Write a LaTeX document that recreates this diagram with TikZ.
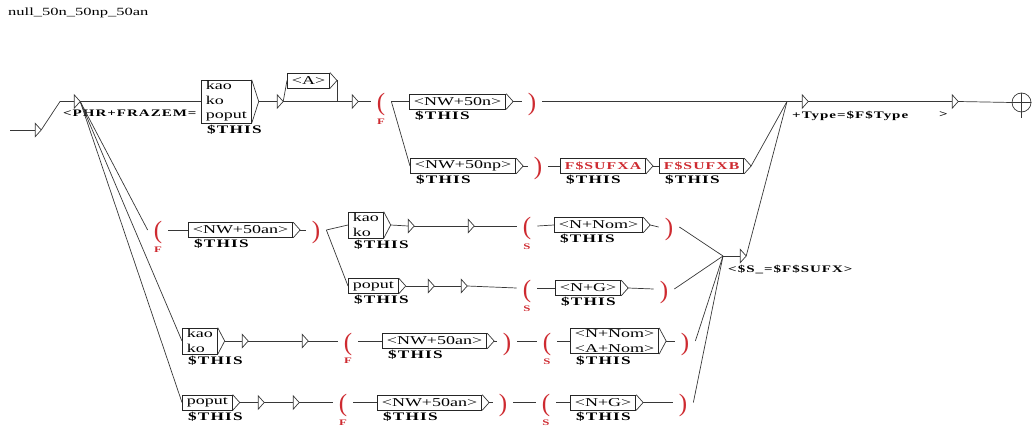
\documentclass[tikz,border=0pt]{standalone}
\usepackage{fontspec}
\setmainfont{Liberation Serif}
\newfontfamily\boxfont{Liberation Serif}[FakeStretch=1.5]
\newfontfamily\outfont{Liberation Serif}[FakeStretch=1.5,LetterSpace=10]
\usetikzlibrary{calc,positioning}
\definecolor{varred}{RGB}{206,42,48}
\definecolor{wiregray}{RGB}{55,55,55}

\tikzset{
  wire/.style={draw=wiregray, line width=0.7pt},
  lbox/.style={draw=black!85, line width=0.7pt, rectangle, anchor=west, inner xsep=4.5pt,
               inner ysep=1.5pt, minimum height=15pt, align=left,
               font=\boxfont\fontsize{12}{14.5}\selectfont},
  epsb/.style={anchor=west, inner sep=0pt, minimum height=13pt, minimum width=0pt},
  outlbl/.style={anchor=north west, inner sep=0pt, font=\outfont\bfseries\fontsize{10}{12}\selectfont},
  thislbl/.style={outlbl, font=\outfont\bfseries\fontsize{11.5}{12}\selectfont},
  vpar/.style={text=varred, inner xsep=6pt, inner ysep=0pt, text height=18pt, text depth=0pt,
               font=\rmfamily\fontsize{25}{25}\selectfont},
  vname/.style={text=varred, inner sep=0pt, font=\outfont\bfseries\fontsize{8.5}{8.5}\selectfont},
  redtxt/.style={text=varred, font=\outfont\bfseries\fontsize{10.5}{12}\selectfont}
}
\newcommand{\boxtri}[1]{\draw[wire] (#1.north east) -- ($(#1.east)+(7,0)$) coordinate (#1o) -- (#1.south east);}
\newcommand{\epstri}[1]{\draw[wire] (#1.north) -- ($(#1.center)+(6,0)$) coordinate (#1o) -- (#1.south) -- cycle;}
\newcommand{\thisout}[1]{\node[thislbl] (#1t) at ([xshift=6pt,yshift=-1.5pt]#1.south west) {\$THIS};}

\begin{document}
\begin{tikzpicture}[x=1pt, y=-1pt]
\useasboundingbox (0,0) rectangle (1032,430);

\node[anchor=west, inner sep=0pt, font=\boxfont\fontsize{11}{11}\selectfont] (title) at (8,13) {null\_50n\_50np\_50an};

\coordinate (init) at (10,130);
\node[epsb] (ini) at (35,130) {};
\node[epsb] (phr) at (74,101.5) {};
\node[outlbl] (phrt) at (63,110) {<PHR+FRAZEM=};

\node[lbox] (kkp) at (201,101.5) {kao\\ko\\poput};
\thisout{kkp}
\node[epsb] (ea) at (277,101.5) {};
\node[lbox] (adj) at (287,80.5) {<A>};
\node[epsb] (eb) at (352,101.5) {};
\node[vpar] (pf1) at (381,101.5) {(};
\node[vname, below=8pt of pf1] (pf1n) {F};
\node[lbox] (nwn) at (409,101.5) {<NW+50n>};
\thisout{nwn}
\node[vpar] (qf1) at (532,101.5) {)};
\node[lbox] (nwnp) at (410,166) {<NW+50np>};
\thisout{nwnp}
\node[vpar] (qf2) at (538,166) {)};
\node[lbox, redtxt] (sfa) at (560,166) {F\$SUFXA};
\thisout{sfa}
\node[lbox, redtxt] (sfb) at (659,166) {F\$SUFXB};
\thisout{sfb}
\coordinate (hub) at (787,101.5);
\node[epsb] (etype) at (802,101.5) {};
\node[outlbl] (etypet) at (792,111) {+Type=\$F\$Type};
\node[epsb] (eend) at (952,101.5) {};
\node[outlbl] (eendt) at (939,111) {>};
\node[wire, circle, minimum size=19pt, inner sep=0pt] (fin) at (1021.5,102.5) {};

\node[vpar] (pf2) at (158,230) {(};
\node[vname, below=8pt of pf2] (pf2n) {F};
\node[lbox] (nwan1) at (188,230) {<NW+50an>};
\thisout{nwan1}
\node[vpar] (qf3) at (316,230) {)};
\node[lbox] (kk2) at (348,225) {kao\\ko};
\thisout{kk2}
\node[epsb] (ec) at (408,226) {};
\node[epsb] (ed) at (468,226) {};
\node[vpar] (ps1) at (527,226) {(};
\node[vname, below=8pt of ps1] (ps1n) {S};
\node[lbox] (nnom1) at (554,225) {<N+Nom>};
\thisout{nnom1}
\node[vpar] (qs1) at (669,227) {)};

\node[lbox] (pp3) at (348,286) {poput};
\thisout{pp3}
\node[epsb] (ee) at (428,286) {};
\node[epsb] (ef) at (461,286) {};
\node[vpar] (ps2) at (527,288) {(};
\node[vname, below=8pt of ps2] (ps2n) {S};
\node[lbox] (ng1) at (555,288) {<N+G>};
\thisout{ng1}
\node[vpar] (qs2) at (664,289) {)};

\node[lbox] (kk4) at (182,341) {kao\\ko};
\thisout{kk4}
\node[epsb] (eg) at (242,341) {};
\node[epsb] (eh) at (302,341) {};
\node[vpar] (pf3) at (348,341) {(};
\node[vname, below=8pt of pf3] (pf3n) {F};
\node[lbox] (nwan2) at (382,341) {<NW+50an>};
\thisout{nwan2}
\node[vpar] (qf4) at (507,341) {)};
\node[vpar] (ps3) at (547,341) {(};
\node[vname, below=8pt of ps3] (ps3n) {S};
\node[lbox] (nnoma) at (570,341) {<N+Nom>\\<A+Nom>};
\thisout{nnoma}
\node[vpar] (qs3) at (685,341) {)};

\node[lbox] (pp5) at (182,402.5) {poput};
\thisout{pp5}
\node[epsb] (ei) at (258,402.5) {};
\node[epsb] (ej) at (293,402.5) {};
\node[vpar] (pf4) at (343,402.5) {(};
\node[vname, below=8pt of pf4] (pf4n) {F};
\node[lbox] (nwan3) at (377,402.5) {<NW+50an>};
\thisout{nwan3}
\node[vpar] (qf5) at (503,402.5) {)};
\node[vpar] (ps4) at (546,402.5) {(};
\node[vname, below=8pt of ps4] (ps4n) {S};
\node[lbox] (ng2) at (570,402.5) {<N+G>};
\thisout{ng2}
\node[vpar] (qs4) at (683,402.5) {)};

\coordinate (sjoin) at (723,256);
\node[epsb] (esfx) at (740,256) {};
\node[outlbl] (esfxt) at (728,265) {<\$S\_=\$F\$SUFX>};

\foreach \b in {kkp,adj,nwn,nwnp,sfa,sfb,nwan1,kk2,nnom1,pp3,ng1,kk4,nwan2,nnoma,pp5,nwan3,ng2}
  {\boxtri{\b}}
\foreach \e in {ini,phr,ea,eb,etype,eend,ec,ed,ee,ef,eg,eh,ei,ej,esfx}
  {\epstri{\e}}

\draw[wire] (init) -- (ini.west);
\draw[wire] (inio) -- ([xshift=-14pt]phr.west) -- (phr.west);
\draw[wire] (phro) -- (kkp.west);
\draw[wire] (phro) -- (pf2.west);
\draw[wire] (phro) -- (kk4.west);
\draw[wire] (phro) -- (pp5.west);
\draw[wire] (kkpo) -- (ea.west);
\draw[wire] (eao) -- (adj.west);
\draw[wire] (eao) -- (eb.west);
\draw[wire] (adjo) -- (adjo |- eb.west) -- (eb.west);
\draw[wire] (ebo) -- (pf1.west);
\draw[wire] (pf1.east) -- (nwn.west);
\draw[wire] (pf1.east) -- (nwnp.west);
\draw[wire] (nwno) -- (qf1.west);
\draw[wire] (qf1.east) -- (hub) -- (etype.west);
\draw[wire] (nwnpo) -- (qf2.west);
\draw[wire] (qf2.east) -- (sfa.west);
\draw[wire] (sfao) -- (sfb.west);
\draw[wire] (sfbo) -- (hub);
\draw[wire] (esfxo) -- (hub);
\draw[wire] (etypeo) -- (eend.west);
\draw[wire] (eendo) -- (fin.west) -- (fin.east);
\draw[wire] (fin.north) -- ($(fin.south)+(0,6)$);

\draw[wire] (pf2.east) -- (nwan1.west);
\draw[wire] (nwan1o) -- (qf3.west);
\draw[wire] (qf3.east) -- (kk2.west);
\draw[wire] (qf3.east) -- (pp3.west);
\draw[wire] (kk2o) -- (ec.west);
\draw[wire] (eco) -- (ed.west);
\draw[wire] (edo) -- (ps1.west);
\draw[wire] (ps1.east) -- (nnom1.west);
\draw[wire] (nnom1o) -- (qs1.west);
\draw[wire] (qs1.east) -- (sjoin);

\draw[wire] (pp3o) -- (ee.west);
\draw[wire] (eeo) -- (ef.west);
\draw[wire] (efo) -- (ps2.west);
\draw[wire] (ps2.east) -- (ng1.west);
\draw[wire] (ng1o) -- (qs2.west);
\draw[wire] (qs2.east) -- (sjoin);

\draw[wire] (kk4o) -- (eg.west);
\draw[wire] (ego) -- (eh.west);
\draw[wire] (eho) -- (pf3.west);
\draw[wire] (pf3.east) -- (nwan2.west);
\draw[wire] (nwan2o) -- (qf4.west);
\draw[wire] (qf4.east) -- (ps3.west);
\draw[wire] (ps3.east) -- (nnoma.west);
\draw[wire] (nnomao) -- (qs3.west);
\draw[wire] (qs3.east) -- (sjoin);

\draw[wire] (pp5o) -- (ei.west);
\draw[wire] (eio) -- (ej.west);
\draw[wire] (ejo) -- (pf4.west);
\draw[wire] (pf4.east) -- (nwan3.west);
\draw[wire] (nwan3o) -- (qf5.west);
\draw[wire] (qf5.east) -- (ps4.west);
\draw[wire] (ps4.east) -- (ng2.west);
\draw[wire] (ng2o) -- (qs4.west);
\draw[wire] (qs4.east) -- (sjoin);

\draw[wire] (sjoin) -- (esfx.west);
\end{tikzpicture}
\end{document}
